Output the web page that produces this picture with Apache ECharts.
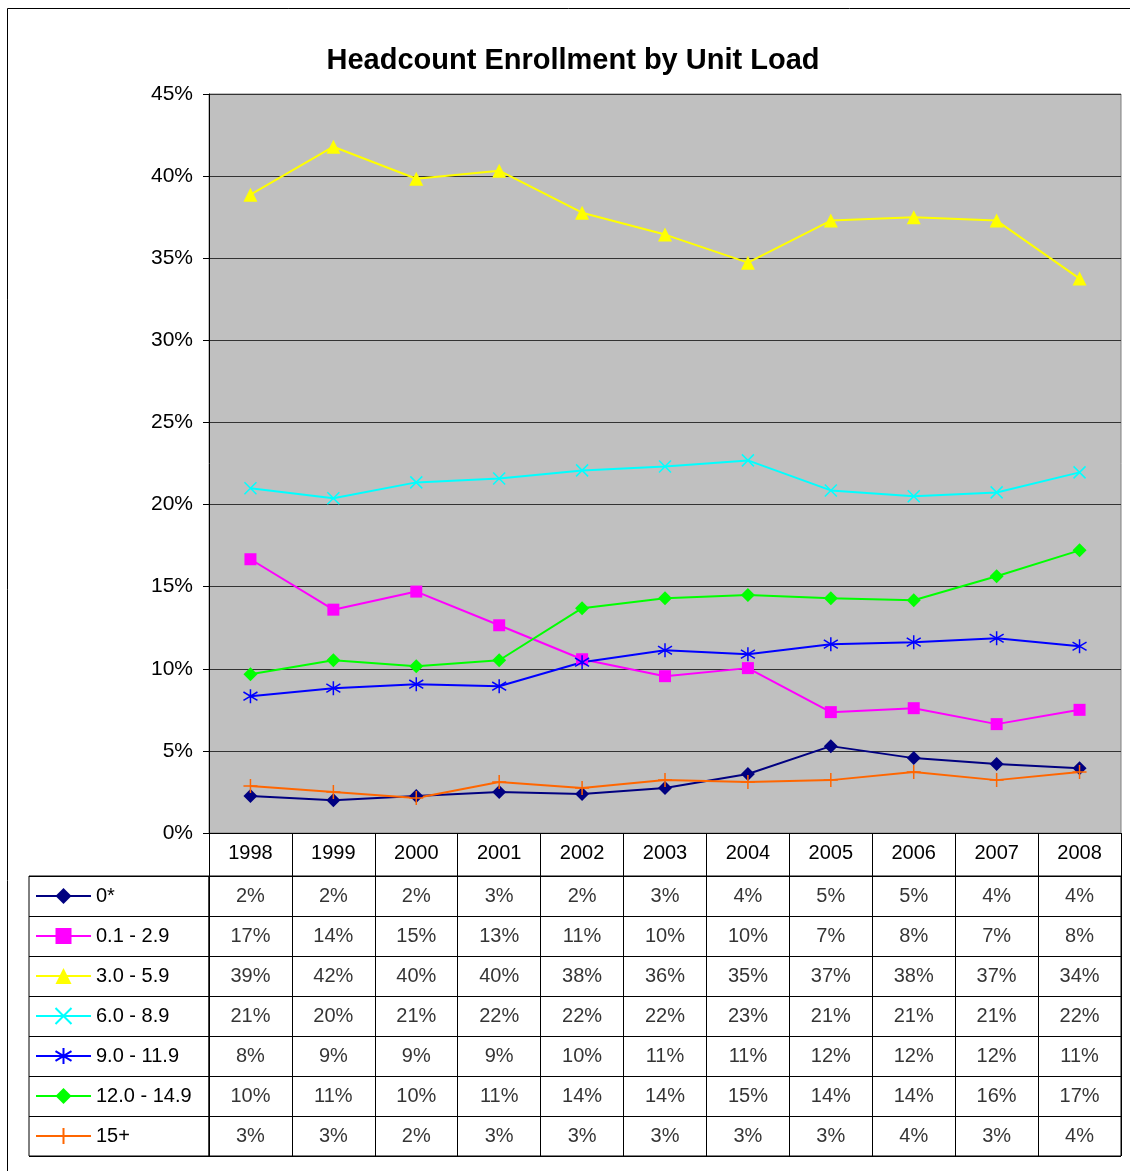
<!DOCTYPE html>
<html>
<head>
    <meta charset="utf-8">
    <title>Headcount Enrollment by Unit Load</title>
    <script src="https://cdn.jsdelivr.net/npm/echarts@6/dist/echarts.min.js"></script>
    <style>
        html, body { margin: 0; padding: 0; background: #fff; }
    </style>
</head>
<body>
    <div id="main" style="width: 1130px;height:1171px;"></div>
    <script type="text/javascript">
        // data (percent)
        var years = ['1998','1999','2000','2001','2002','2003','2004','2005','2006','2007','2008'];
        var rowNames = ['0*','0.1 - 2.9','3.0 - 5.9','6.0 - 8.9','9.0 - 11.9','12.0 - 14.9','15+'];
        var yTicks = [0, 5, 10, 15, 20, 25, 30, 35, 40, 45];

        var load0     = [2.25, 2.0, 2.25, 2.5, 2.37, 2.74, 3.59, 5.29, 4.56, 4.2, 3.95];
        var load01_29 = [16.67, 13.6, 14.7, 12.65, 10.58, 9.55, 10.04, 7.36, 7.6, 6.63, 7.5];
        var load30_59 = [38.87, 41.79, 39.84, 40.33, 37.77, 36.44, 34.73, 37.29, 37.5, 37.29, 33.76];
        var load60_89 = [20.99, 20.38, 21.35, 21.59, 22.08, 22.32, 22.69, 20.86, 20.5, 20.74, 21.96];
        var load90_119 = [8.33, 8.82, 9.06, 8.94, 10.4, 11.13, 10.89, 11.5, 11.62, 11.86, 11.37];
        var load120_149 = [9.67, 10.52, 10.16, 10.52, 13.69, 14.29, 14.5, 14.29, 14.17, 15.63, 17.21];
        var load15p   = [2.86, 2.5, 2.13, 3.1, 2.74, 3.22, 3.1, 3.22, 3.71, 3.22, 3.71];

        var allRows = [load0, load01_29, load30_59, load60_89, load90_119, load120_149, load15p];
        var colors = ['#000080', '#ff00ff', '#ffff00', '#00ffff', '#0000ff', '#00ff00', '#ff6600'];
        var symbols = [
            'diamond',
            'rect',
            'triangle',
            'path://M0,0L10,10M10,0L0,10',
            'path://M5,0L5,10M0,2L10,8M0,8L10,2',
            'diamond',
            'path://M5,0L5,10M0,5L10,5'
        ];
        var sizes = [14, 12, 14, 12, 14, 14, 14];
        var strokes = [0, 0, 0, 1.5, 1.5, 0, 1.5];

        var font = 'Liberation Sans, Arial, sans-serif';
        var myChart = echarts.init(document.getElementById('main'));

        var series = [];
        for (var i = 0; i < allRows.length; i++) {
            series.push({
                name: rowNames[i],
                type: 'line',
                xAxisIndex: 0,
                yAxisIndex: 0,
                data: allRows[i],
                symbol: symbols[i],
                symbolSize: sizes[i],
                lineStyle: { color: colors[i], width: 2 },
                itemStyle: { color: colors[i], borderColor: colors[i], borderWidth: strokes[i] },
                emphasis: { disabled: true },
                animation: false,
                z: 3
            });
        }

        // table cells
        var cells = [];
        for (var r = 0; r < allRows.length; r++) {
            for (var c = 0; c < years.length; c++) {
                cells.push([years[c], rowNames[r], Math.round(allRows[r][c]) + '%']);
            }
        }
        series.push({
            type: 'scatter',
            xAxisIndex: 1,
            yAxisIndex: 1,
            data: cells,
            symbolSize: 0,
            silent: true,
            animation: false,
            label: {
                show: true,
                position: 'inside',
                formatter: function (p) { return p.value[2]; },
                fontFamily: font,
                fontSize: 20,
                color: '#000'
            }
        });

        myChart.setOption({
            backgroundColor: '#fff',
            title: {
                text: 'Headcount Enrollment by Unit Load',
                left: 568,
                textAlign: 'center',
                top: 41,
                textStyle: { fontFamily: font, fontSize: 29, fontWeight: 'bold', color: '#000' }
            },
            legend: {
                data: rowNames,
                orient: 'vertical',
                left: 30,
                top: 881,
                itemWidth: 55,
                itemHeight: 20,
                itemGap: 20,
                selectedMode: false,
                lineStyle: { width: 2 },
                textStyle: { fontFamily: font, fontSize: 20, color: '#000' }
            },
            graphic: [{
                type: 'polyline',
                shape: { points: [[7.5, 1171], [7.5, 8.5], [1130, 8.5]] },
                style: { stroke: '#000', lineWidth: 1, fill: null },
                silent: true
            }],
            grid: [
                { left: 209, top: 94, width: 912, height: 739, show: true, backgroundColor: '#c0c0c0', borderColor: '#808080', borderWidth: 1 },
                { left: 209, top: 876, width: 912, height: 280, show: true, borderColor: '#000', borderWidth: 1 },
                { left: 29, top: 876, width: 180, height: 280, show: true, borderColor: '#000', borderWidth: 1 }
            ],
            xAxis: [
                {
                    type: 'category',
                    gridIndex: 0,
                    data: years,
                    boundaryGap: true,
                    axisLine: { show: true, lineStyle: { color: '#000', width: 1 } },
                    axisTick: { show: true, length: 43, lineStyle: { color: '#000' } },
                    axisLabel: { fontFamily: font, fontSize: 20, color: '#000', margin: 10 },
                    splitLine: { show: false }
                },
                {
                    type: 'category',
                    gridIndex: 1,
                    data: years,
                    boundaryGap: true,
                    axisLine: { show: false },
                    axisTick: { show: false },
                    axisLabel: { show: false },
                    splitLine: { show: true, lineStyle: { color: '#000', width: 1 } }
                },
                {
                    type: 'value',
                    gridIndex: 2,
                    show: false
                }
            ],
            yAxis: [
                {
                    type: 'value',
                    gridIndex: 0,
                    min: yTicks[0],
                    max: yTicks[yTicks.length - 1],
                    interval: 5,
                    axisLine: { show: true, lineStyle: { color: '#000', width: 1 } },
                    axisTick: { show: true, length: 6, lineStyle: { color: '#000' } },
                    axisLabel: { fontFamily: font, fontSize: 21, color: '#000', margin: 16, formatter: '{value}%' },
                    splitLine: { show: true, lineStyle: { color: '#333', width: 1 } }
                },
                {
                    type: 'category',
                    gridIndex: 1,
                    data: rowNames,
                    inverse: true,
                    axisLine: { show: false },
                    axisTick: { show: false },
                    axisLabel: { show: false },
                    splitLine: { show: true, lineStyle: { color: '#000', width: 1 } }
                },
                {
                    type: 'category',
                    gridIndex: 2,
                    data: rowNames,
                    inverse: true,
                    axisLine: { show: false },
                    axisTick: { show: false },
                    axisLabel: { show: false },
                    splitLine: { show: true, lineStyle: { color: '#000', width: 1 } }
                }
            ],
            series: series
        });
    </script>
</body>
</html>
